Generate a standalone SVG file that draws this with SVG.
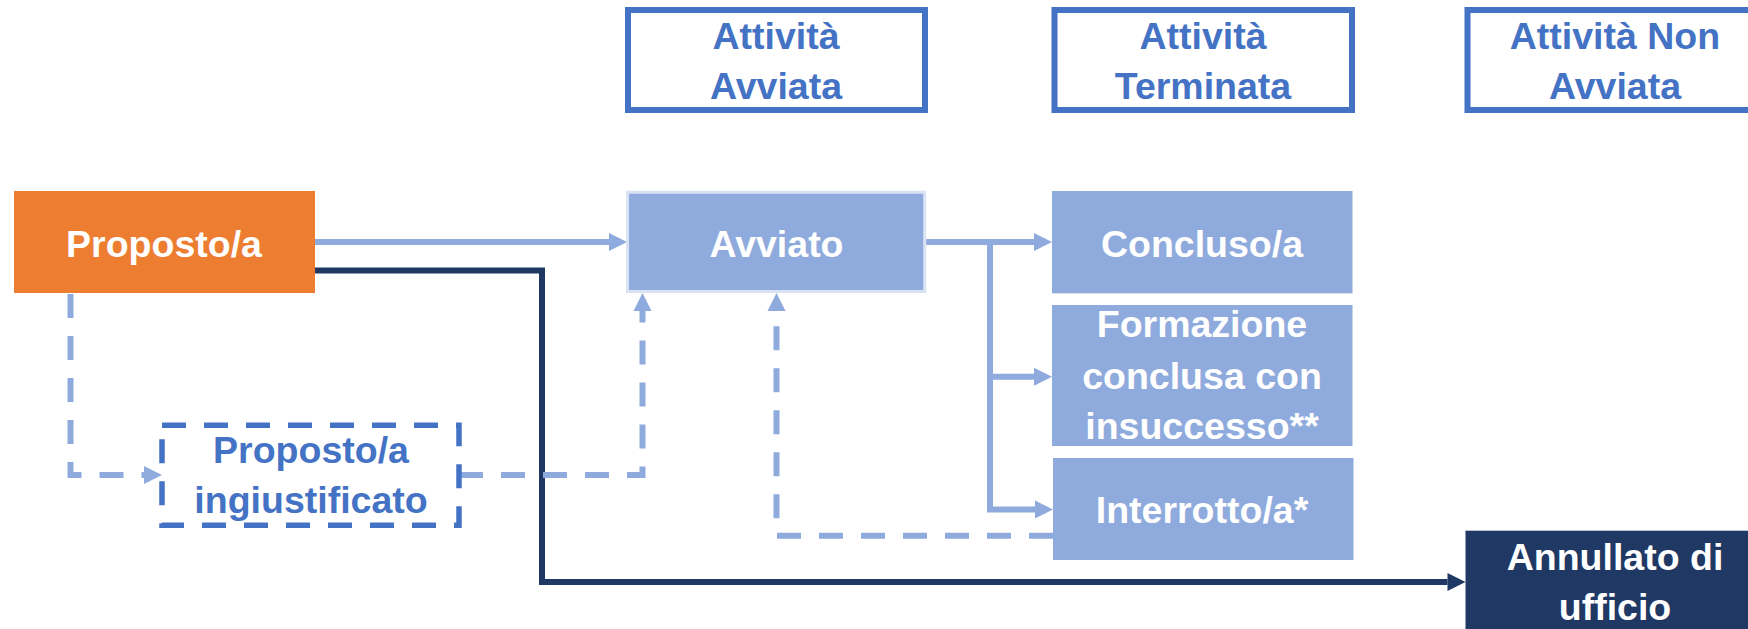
<svg xmlns="http://www.w3.org/2000/svg" width="1748" height="629" viewBox="0 0 1748 629">
<style>
text{font-family:"Liberation Sans",Arial,sans-serif;font-weight:bold;font-size:37.5px;text-anchor:middle}
.w{fill:#FFFFFF}
.b{fill:#4472C4}
.hdr{fill:#FFFFFF;stroke:#4472C4;stroke-width:6}
.lb{fill:#8FAADC}
.cl{fill:none;stroke:#8FAADC;stroke-width:6}
.dl{fill:none;stroke:#8FAADC;stroke-width:6;stroke-dasharray:24 18}
.dk{fill:none;stroke:#203864;stroke-width:6}
</style>
<defs>
<marker id="aL" markerUnits="strokeWidth" markerWidth="3" markerHeight="3" refX="0" refY="1.5" orient="auto" overflow="visible">
<path d="M0,0 L3,1.5 L0,3 z" fill="#8FAADC"/>
</marker>
<marker id="aD" markerUnits="strokeWidth" markerWidth="3" markerHeight="3" refX="0" refY="1.5" orient="auto" overflow="visible">
<path d="M0,0 L3,1.5 L0,3 z" fill="#203864"/>
</marker>
</defs>
<rect width="1748" height="629" fill="#FFFFFF"/>

<g id="hdr-avviata">
<rect class="hdr" x="628" y="10" width="297" height="100"/>
<text class="b" x="776" y="49">Attività</text>
<text class="b" x="776" y="99">Avviata</text>
</g>
<g id="hdr-terminata">
<rect class="hdr" x="1054.5" y="10" width="297.5" height="100"/>
<text class="b" x="1203" y="49">Attività</text>
<text class="b" x="1203" y="99">Terminata</text>
</g>
<g id="hdr-nonavviata">
<rect class="hdr" x="1467.5" y="10" width="297" height="100"/>
<text class="b" x="1615" y="49">Attività Non</text>
<text class="b" x="1615" y="99">Avviata</text>
</g>

<g id="connectors">
<path class="cl" d="M315,242 H609" marker-end="url(#aL)"/>
<path class="cl" d="M926,242 H1034" marker-end="url(#aL)"/>
<path class="cl" d="M990,242 V509.5 H1035" marker-end="url(#aL)"/>
<path class="cl" d="M990,376.7 H1034" marker-end="url(#aL)"/>
<path class="dk" d="M315,270.5 H542 V582 H1447.5" marker-end="url(#aD)"/>
<path class="dl" d="M70.5,294 V475 H144" marker-end="url(#aL)"/>
<path class="dl" d="M459,475 H642.5 V311" marker-end="url(#aL)"/>
<path class="dl" d="M1053,535.8 H776.5 V311" marker-end="url(#aL)"/>
</g>

<g id="proposto">
<rect x="14" y="191" width="301" height="102" fill="#ED7D31"/>
<text class="w" x="164" y="256.5">Proposto/a</text>
</g>
<g id="ingiustificato">
<rect x="162" y="425.3" width="297" height="100" fill="#FFFFFF" stroke="#4472C4" stroke-width="5.5" stroke-dasharray="24 18"/>
<text class="b" x="311" y="463">Proposto/a</text>
<text class="b" x="311" y="513">ingiustificato</text>
</g>
<g id="avviato">
<rect x="627.5" y="192.2" width="297.2" height="99.3" fill="#8FAADC" stroke="#DAE3F3" stroke-width="3"/>
<text class="w" x="776.5" y="256.5">Avviato</text>
</g>
<g id="concluso">
<rect class="lb" x="1052" y="191" width="300.5" height="102.3"/>
<text class="w" x="1202" y="256.5">Concluso/a</text>
</g>
<g id="formazione">
<rect class="lb" x="1052" y="305" width="300.5" height="141"/>
<text class="w" x="1202" y="337.3">Formazione</text>
<text class="w" x="1202" y="389.3">conclusa con</text>
<text class="w" x="1202" y="439.3">insuccesso**</text>
</g>
<g id="interrotto">
<rect class="lb" x="1053" y="458" width="300.5" height="102"/>
<text class="w" x="1202" y="522.7">Interrotto/a*</text>
</g>
<g id="annullato">
<rect x="1465.5" y="530.7" width="300" height="120" fill="#203864"/>
<text class="w" x="1615" y="570">Annullato di</text>
<text class="w" x="1615" y="620">ufficio</text>
</g>
</svg>
